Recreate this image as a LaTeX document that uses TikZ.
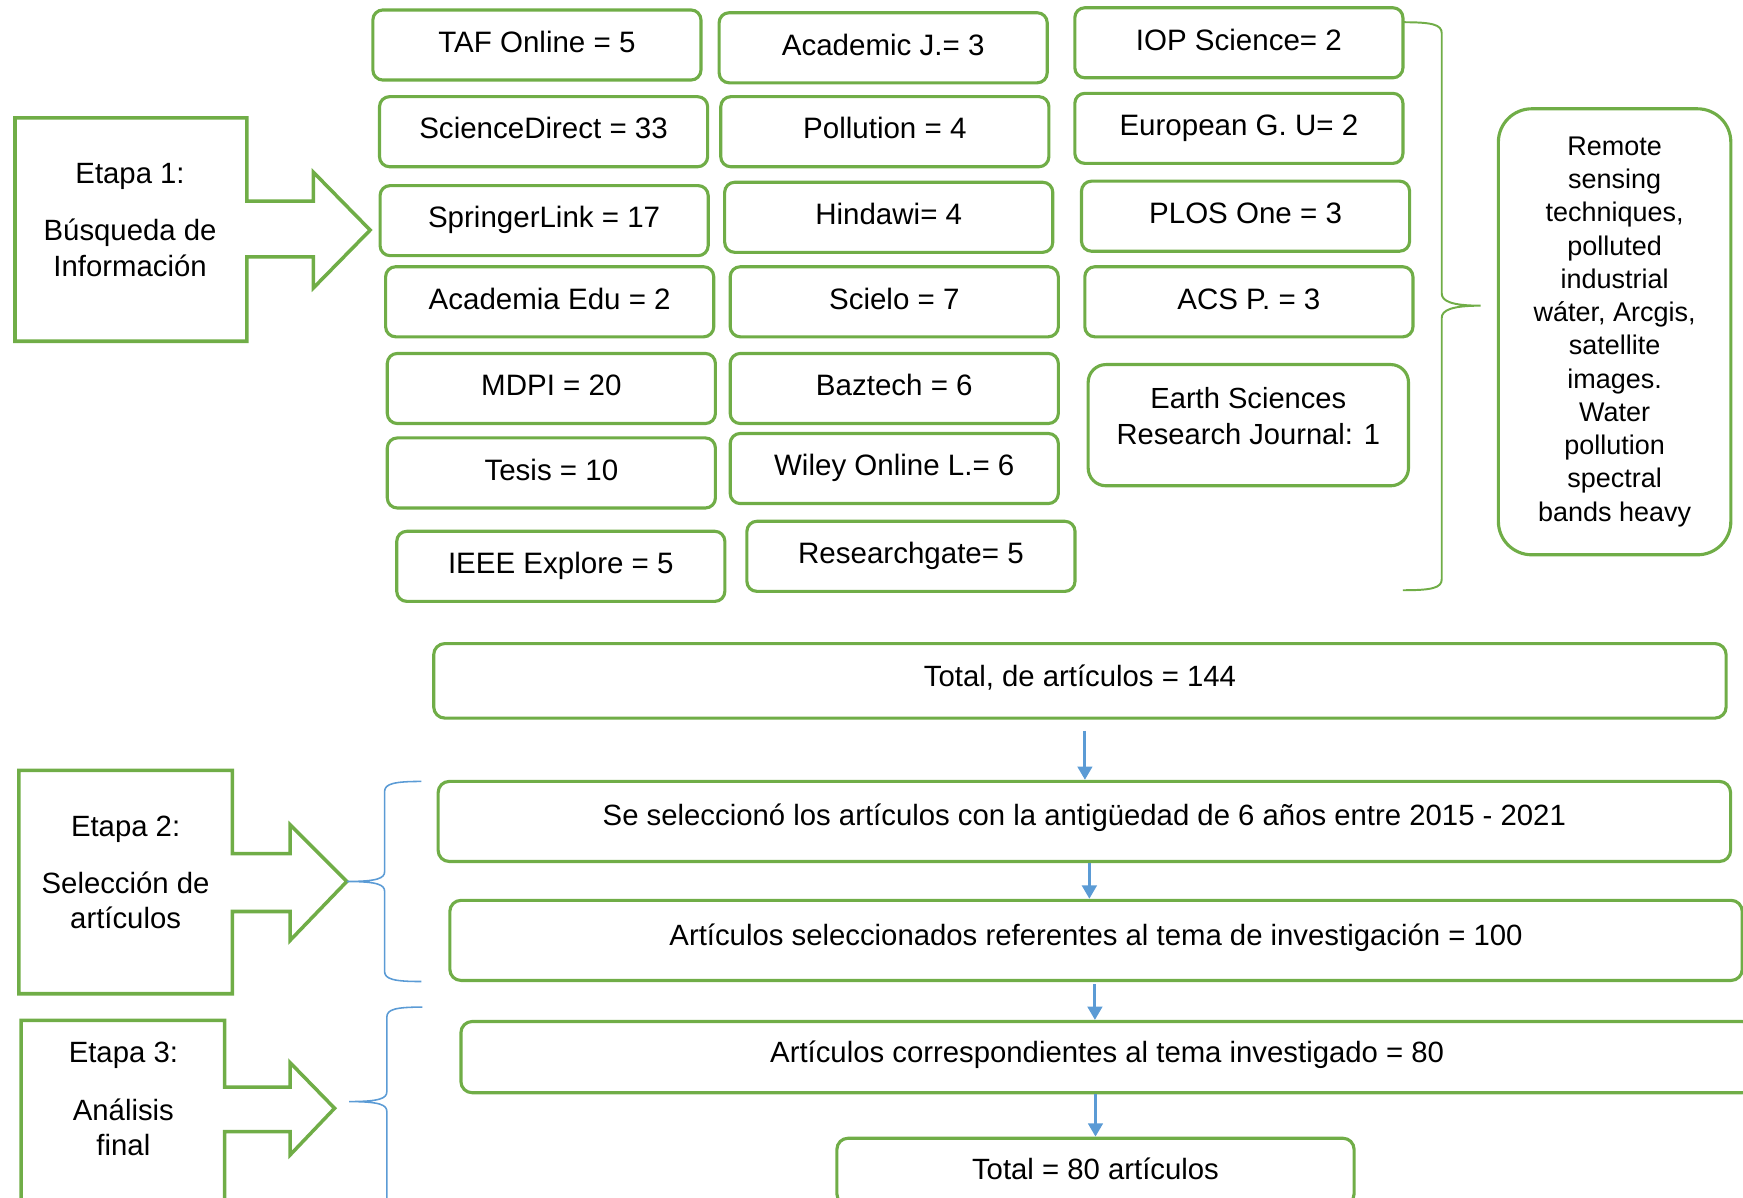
\documentclass[tikz,border=0pt]{standalone}
\usepackage{fontspec}
\setmainfont{Liberation Sans}
\usetikzlibrary{arrows.meta}
\definecolor{boxgreen}{HTML}{70AD47}
\definecolor{flowblue}{HTML}{5B9BD5}

\begin{document}
\begin{tikzpicture}[x=0.01cm, y=-0.01cm,
    srcbox/.style={draw=boxgreen, line width=0.8pt, rounded corners=0.09cm,
        minimum width=2.95cm, minimum height=0.63cm, inner sep=0pt,
        text height=5.5pt, text depth=1.8pt, font=\fontsize{7.55}{9}\selectfont},
    countbox/.style={draw=boxgreen, line width=0.8pt, rounded corners=0.1cm,
        minimum width=11.62cm, inner sep=0pt,
        text height=5pt, text depth=2.2pt, font=\fontsize{7.5}{9}\selectfont},
    notebox/.style={draw=boxgreen, line width=0.8pt, align=center, inner sep=0pt},
    stagearrow/.style={draw=boxgreen, line width=0.9pt},
    stagetext/.style={align=center, font=\fontsize{7.5}{9.1}\selectfont},
    gbrace/.style={draw=boxgreen, line width=0.5pt},
    bbrace/.style={draw=flowblue, line width=0.4pt},
    flow/.style={draw=flowblue, line width=0.8pt, -{Triangle[length=0.12cm, width=0.13cm]}}]

    \clip (0,0) rectangle (1568,1077);

    % Etapa 1
    \draw[stagearrow] (13.5,106) -- (222,106) -- (222,181) -- (282,181) -- (282,155) -- (333,207)
        -- (282,259) -- (282,231) -- (222,231) -- (222,307) -- (13.5,307) -- cycle;
    \node[stagetext] (etapa1) at (117,198) {Etapa 1:\\[5.6pt]Búsqueda de\\Información};

    % Fuentes consultadas
    \node[srcbox] (taf) at (483,40.5) {TAF Online = 5};
    \node[srcbox] (sd) at (489,118.5) {ScienceDirect = 33};
    \node[srcbox] (spr) at (489.5,198.5) {SpringerLink = 17};
    \node[srcbox] (acad) at (494.5,271.5) {Academia Edu = 2};
    \node[srcbox] (mdpi) at (496,349.5) {MDPI = 20};
    \node[srcbox] (tesis) at (496,425.5) {Tesis = 10};
    \node[srcbox] (ieee) at (504.5,509.5) {IEEE Explore = 5};

    \node[srcbox] (acj) at (794.5,43) {Academic J.= 3};
    \node[srcbox] (poll) at (796,118.5) {Pollution = 4};
    \node[srcbox] (hind) at (799.5,195.5) {Hindawi= 4};
    \node[srcbox] (scielo) at (804.5,271.5) {Scielo = 7};
    \node[srcbox] (baz) at (804.5,349.5) {Baztech = 6};
    \node[srcbox] (wiley) at (804.5,421.5) {Wiley Online L.= 6};
    \node[srcbox] (rg) at (819.5,500.5) {Researchgate= 5};

    \node[srcbox] (iop) at (1114.5,38.5) {IOP Science= 2};
    \node[srcbox] (eu) at (1114.5,115.5) {European G. U= 2};
    \node[srcbox] (plos) at (1120.5,194.5) {PLOS One = 3};
    \node[srcbox] (acs) at (1123.5,271.5) {ACS P. = 3};
    \node[notebox, rounded corners=0.16cm, minimum width=2.88cm, minimum height=1.09cm,
        text depth=4.6pt, font=\fontsize{7.45}{9.1}\selectfont] (earth) at (1123,382.5)
        {Earth Sciences\\Research Journal: 1};

    % Llave y palabras clave
    \draw[gbrace] (1262,20) .. controls (1288,20) and (1297,22) .. (1297,30) -- (1297,264)
        .. controls (1297,271) and (1306,275) .. (1332,275)
        .. controls (1306,275) and (1297,279) .. (1297,286) -- (1297,521)
        .. controls (1297,529) and (1288,531) .. (1262,531);
    \node[notebox, rounded corners=0.3cm, minimum width=2.09cm, minimum height=4.01cm,
        font=\fontsize{6.9}{8.5}\selectfont] (keywords) at (1452.5,298.5)
        {Remote\\sensing\\techniques,\\polluted\\industrial\\wáter, Arcgis,\\satellite\\images.\\Water\\pollution\\spectral\\bands heavy};

    % Total
    \node[countbox, minimum height=0.67cm] (total) at (971.5,612.5) {Total, de artículos = 144};

    % Etapa 2
    \draw[stagearrow] (17,693) -- (209,693) -- (209,768) -- (261,768) -- (261,742) -- (312,793)
        -- (261,846) -- (261,820) -- (209,820) -- (209,894) -- (17,894) -- cycle;
    \node[stagetext] (etapa2) at (113,785) {Etapa 2:\\[5.4pt]Selección de\\artículos};
    \draw[bbrace] (379,703) .. controls (355,703) and (346,705) .. (346,712) -- (346,784)
        .. controls (346,790) and (340,793) .. (312,793)
        .. controls (340,793) and (346,796) .. (346,802) -- (346,874)
        .. controls (346,881) and (355,883) .. (379,883);

    \node[countbox, minimum height=0.72cm, text depth=3pt] (sel) at (975.5,739)
        {Se seleccionó los artículos con la antigüedad de 6 años entre 2015 - 2021};
    \node[countbox, minimum height=0.72cm] (artsel) at (986,846)
        {Artículos seleccionados referentes al tema de investigación = 100};

    % Etapa 3
    \draw[stagearrow] (19,1090) -- (19,918) -- (202,918) -- (202,978) -- (261,978) -- (261,956)
        -- (301,997) -- (261,1039) -- (261,1018) -- (202,1018) -- (202,1090);
    \node[stagetext] (etapa3) at (111,989) {Etapa 3:\\[5.6pt]Análisis\\final};
    \draw[bbrace] (380,906) .. controls (356,906) and (348,908) .. (348,915) -- (348,982)
        .. controls (348,988) and (342,991) .. (314,991)
        .. controls (342,991) and (348,994) .. (348,1000) -- (348,1090);

    \node[countbox, minimum height=0.64cm] (artcor) at (996,951)
        {Artículos correspondientes al tema investigado = 80};
    \node[countbox, minimum width=4.65cm, minimum height=0.6cm, text depth=1pt] (final) at (985.5,1054)
        {Total = 80 artículos};

    % Flechas
    \coordinate (f1) at ([shift={(4.5,10)}]total.south);
    \draw[flow] (f1) -- (f1 |- sel.north);
    \coordinate (f2) at ([shift={(4.5,0)}]sel.south);
    \draw[flow] (f2) -- (f2 |- artsel.north);
    \coordinate (f3) at ([shift={(-1,2)}]artsel.south);
    \draw[flow] (f3) -- (f3 |- artcor.north);
    \draw[flow] (final.north |- artcor.south) -- (final.north);
\end{tikzpicture}
\end{document}
